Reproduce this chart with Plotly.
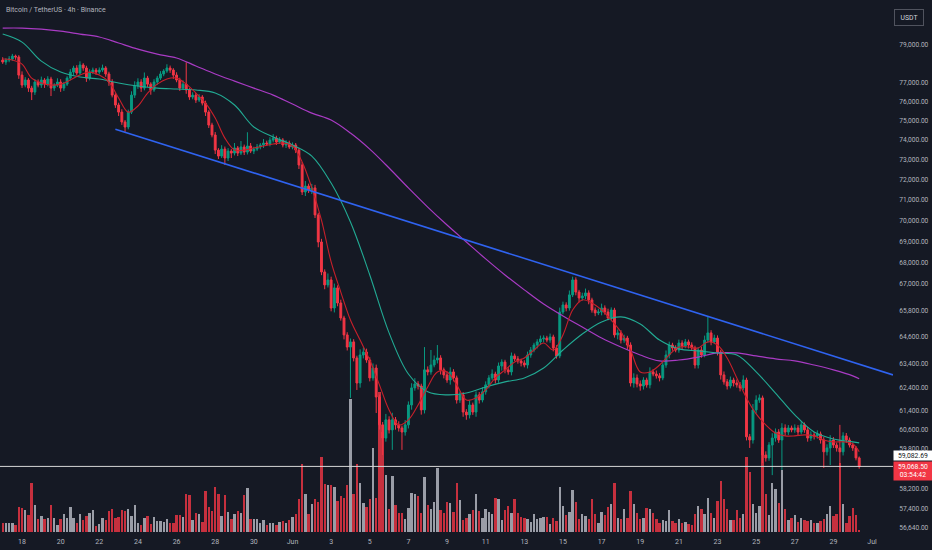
import math
import pandas as pd
import plotly.graph_objects as go

# BTC/USDT 4h candles, 2025-05-17 00:00 .. 2025-06-30 08:00
first_open = 78190
closes = [
    78080, 78190, 78240, 78400, 78350, 77380,
    76850, 77120, 76690, 76480, 77010, 76850,
    77120, 76900, 77170, 76690, 76850, 77010,
    76690, 76900, 77220, 77540, 77760, 77490,
    77920, 77760, 77220, 77540, 77650, 77540,
    77650, 77760, 77440, 77010, 76320, 75800,
    75430, 74920, 74660, 75430, 76320, 76800,
    77010, 76690, 77220, 76900, 76590, 77010,
    77220, 77440, 77600, 77760, 77650, 77380,
    77120, 76690, 76900, 76590, 76220, 76320,
    76060, 76220, 75900, 75430, 74760, 74250,
    73480, 73180, 73530, 73080, 73430, 73330,
    73590, 73330, 73640, 73380, 73690, 73430,
    73530, 73640, 73740, 73840, 73790, 73990,
    74090, 73890, 73990, 73740, 73840, 73640,
    73740, 73480, 72730, 71390, 71680, 71490,
    71590, 70270, 68970, 67560, 66960, 67190,
    65900, 66820, 66130, 65450, 64690, 64150,
    64380, 63670, 62580, 63800, 63930, 63580,
    62800, 63230, 61980, 60800, 60250, 61010,
    60590, 61010, 60800, 60670, 60500, 60800,
    61640, 62370, 62540, 62450, 61430, 63150,
    63060, 63360, 63580, 63670, 63150, 62930,
    62710, 63060, 62800, 61850, 62070, 61340,
    61220, 61640, 61340, 62070, 61850, 62200,
    62500, 62800, 62970, 62710, 63320, 63490,
    63150, 63060, 63760, 63630, 63540, 63450,
    63360, 63800, 64020, 64240, 64380, 64510,
    64550, 64460, 64600, 64110, 63760, 65720,
    66040, 65900, 66500, 67190, 66630, 66360,
    66450, 66590, 66270, 65810, 65680, 65720,
    65900, 65720, 65450, 65810, 64690, 64780,
    64460, 64550, 64240, 62580, 62800, 62540,
    62450, 62710, 62500, 63060, 62970, 62890,
    62800, 63360, 63800, 64240, 64110, 64020,
    64330, 64200, 64380, 64240, 64110, 63360,
    64020, 63800, 64460, 64780, 64380, 64550,
    63930, 62930, 62630, 62450, 62710, 62580,
    62500, 62370, 62710, 60300, 60170, 61430,
    61850, 61940, 59550, 59430, 59960, 60250,
    60500, 60170, 60670, 60500, 60670, 60590,
    60670, 60500, 60800, 60590, 60250, 60380,
    60340, 60420, 60170, 59680, 59840, 60170,
    59960, 59840, 59680, 60340, 60170, 59960,
    59840, 59430, 59068.5,
]
# wick length above / below the body, USDT
wick_up = [
    150, 100, 160, 120, 80, 100,
    200, 150, 100, 120, 160, 140,
    180, 100, 150, 120, 100, 200,
    150, 120, 100, 160, 120, 150,
    200, 100, 120, 150, 130, 110,
    140, 180, 100, 120, 150, 100,
    120, 150, 100, 130, 200, 250,
    200, 150, 300, 120, 100, 150,
    120, 150, 100, 200, 130, 100,
    150, 120, 200, 1170, 100, 150,
    120, 150, 100, 130, 100, 120,
    150, 100, 200, 130, 150, 100,
    250, 100, 300, 120, 700, 150,
    120, 150, 100, 200, 120, 150,
    200, 120, 150, 100, 150, 120,
    130, 100, 120, 150, 250, 120,
    200, 150, 100, 150, 120, 300,
    150, 200, 120, 150, 100, 120,
    150, 120, 100, 250, 200, 150,
    120, 200, 150, 100, 120, 250,
    150, 300, 120, 150, 100, 200,
    150, 200, 250, 120, 100, 1000,
    150, 660, 200, 570, 120, 100,
    150, 200, 120, 100, 150, 120,
    120, 200, 100, 150, 120, 200,
    150, 120, 200, 100, 150, 120,
    100, 120, 150, 100, 120, 100,
    120, 150, 130, 100, 120, 150,
    120, 100, 150, 100, 120, 200,
    150, 120, 200, 150, 120, 100,
    150, 200, 120, 100, 120, 150,
    200, 120, 150, 120, 100, 150,
    120, 150, 100, 120, 200, 150,
    150, 120, 100, 200, 120, 150,
    120, 150, 200, 150, 100, 120,
    150, 120, 130, 100, 120, 100,
    120, 150, 200, 720, 120, 150,
    120, 100, 150, 120, 150, 100,
    150, 120, 200, 100, 120, 250,
    200, 150, 100, 150, 120, 200,
    150, 120, 200, 150, 120, 100,
    150, 120, 160, 100, 120, 150,
    120, 150, 100, 120, 150, 200,
    120, 100, 960, 150, 120, 100,
    100, 80, 60,
]
wick_dn = [
    100, 150, 120, 100, 150, 200,
    150, 120, 200, 420, 150, 120,
    150, 200, 120, 420, 150, 100,
    200, 150, 100, 120, 150, 120,
    100, 150, 200, 120, 100, 150,
    120, 100, 150, 200, 120, 150,
    200, 150, 250, 120, 100, 150,
    150, 200, 120, 150, 250, 100,
    150, 100, 120, 100, 150, 200,
    120, 150, 100, 200, 150, 120,
    150, 100, 120, 200, 150, 120,
    200, 150, 100, 350, 150, 250,
    120, 150, 100, 150, 120, 100,
    150, 100, 120, 150, 100, 120,
    120, 150, 100, 120, 150, 100,
    120, 150, 200, 150, 200, 150,
    200, 150, 250, 150, 200, 120,
    150, 200, 150, 120, 200, 150,
    2210, 150, 300, 200, 150, 120,
    150, 120, 680, 200, 700, 150,
    150, 830, 200, 150, 740, 150,
    150, 200, 120, 150, 200, 150,
    150, 120, 100, 150, 200, 150,
    120, 200, 150, 150, 120, 200,
    205, 150, 120, 200, 150, 100,
    120, 150, 100, 150, 120, 200,
    150, 120, 150, 100, 120, 150,
    100, 150, 120, 100, 150, 120,
    150, 100, 120, 150, 120, 100,
    100, 150, 120, 100, 150, 200,
    120, 150, 200, 120, 150, 100,
    150, 120, 100, 150, 120, 200,
    150, 120, 200, 150, 200, 150,
    200, 150, 120, 150, 100, 120,
    150, 100, 120, 150, 120, 100,
    120, 150, 100, 150, 120, 150,
    150, 120, 100, 120, 150, 100,
    150, 200, 120, 150, 100, 150,
    120, 150, 100, 150, 330, 150,
    150, 120, 330, 150, 120, 1230,
    150, 120, 1230, 150, 120, 100,
    120, 150, 100, 120, 150, 120,
    150, 120, 150, 660, 150, 700,
    120, 150, 660, 150, 120, 100,
    120, 100, 80,
]
# volume, thousand BTC
volume = [
    1.86, 1.74, 1.86, 1.74, 1.40, 5.06,
    4.74, 4.34, 3.34, 9.86, 5.34, 2.54,
    3.20, 2.54, 2.86, 5.40, 2.74, 1.34,
    2.54, 3.54, 2.74, 4.94, 2.86, 1.86,
    3.66, 2.40, 3.20, 3.86, 4.34, 1.14,
    1.54, 2.86, 2.40, 4.20, 4.54, 2.86,
    3.06, 4.34, 4.20, 4.66, 3.20, 5.34,
    1.74, 1.34, 2.86, 3.20, 1.54, 3.06,
    2.20, 2.20, 2.00, 2.54, 1.86, 1.74,
    3.40, 3.34, 3.06, 7.60, 7.40, 2.40,
    3.86, 3.54, 2.00, 8.20, 5.06, 4.20,
    9.06, 7.66, 3.20, 7.34, 4.06, 2.54,
    3.54, 4.20, 3.74, 7.40, 8.86, 2.54,
    2.66, 2.54, 1.86, 2.40, 1.40, 1.86,
    1.86, 1.46, 2.06, 2.20, 1.74, 2.40,
    3.00, 3.66, 6.54, 13.54, 7.66, 3.54,
    5.66, 6.66, 6.00, 15.06, 9.54, 9.34,
    9.34, 9.00, 6.20, 7.20, 6.74, 9.34,
    26.60, 7.66, 13.54, 9.74, 5.86, 5.00,
    6.66, 16.86, 6.86, 28.00, 20.00, 11.40,
    4.66, 11.20, 5.46, 3.74, 3.86, 2.54,
    4.80, 7.74, 7.54, 7.20, 3.86, 11.06,
    5.34, 4.54, 6.00, 12.86, 4.34, 3.86,
    6.00, 5.86, 4.00, 9.74, 6.40, 2.40,
    2.86, 3.54, 4.40, 7.54, 4.20, 2.86,
    4.54, 4.00, 3.66, 6.86, 6.54, 2.40,
    4.34, 5.20, 3.74, 6.54, 3.74, 3.06,
    2.86, 2.54, 2.00, 3.54, 2.66, 2.86,
    3.00, 3.00, 1.54, 2.86, 2.20, 9.06,
    5.20, 3.34, 4.00, 8.40, 6.06, 2.66,
    3.54, 3.20, 2.66, 6.66, 3.54, 1.74,
    4.00, 3.34, 5.06, 5.54, 9.86, 2.86,
    2.54, 4.54, 2.86, 8.20, 5.66, 3.86,
    2.54, 2.86, 4.86, 4.54, 3.74, 2.54,
    1.74, 2.40, 2.20, 4.40, 2.20, 1.86,
    2.54, 1.86, 2.00, 1.54, 1.40, 3.54,
    5.20, 4.54, 3.66, 6.74, 3.86, 2.86,
    6.20, 10.20, 6.54, 4.54, 2.40, 2.40,
    4.40, 2.86, 3.66, 15.00, 12.00, 5.66,
    3.86, 5.20, 17.00, 7.54, 3.34, 9.86,
    8.66, 5.86, 12.34, 4.66, 2.40, 2.86,
    3.34, 2.00, 2.86, 2.40, 2.20, 2.40,
    1.86, 1.86, 2.20, 2.66, 3.66, 5.20,
    3.20, 3.54, 13.80, 5.54, 1.86, 3.20,
    4.86, 3.34, 0.40,
]

# moving averages
ma_fast = [  # every 12h
    78240, 78190, 77970, 77220, 76960, 76850, 76900, 77120, 77380, 77540,
    77380, 77010, 76170, 75430, 75750, 76430, 76900, 77170, 77220, 76900,
    76430, 75900, 75120, 74090, 73480, 73480, 73590, 73690, 73790, 73840,
    73690, 72880, 71590, 70020, 68030, 66630, 65360, 64460, 63580, 62500,
    61430, 60800, 61010, 61640, 62410, 63060, 63060, 62500, 61850, 61940,
    62280, 62800, 63150, 63490, 63670, 64020, 64330, 64020, 64690, 65810,
    66270, 66130, 65810, 65360, 64820, 64020, 63060, 63060, 63360, 63800,
    64150, 64150, 64110, 64380, 64240, 63670, 62800, 61940, 61260, 60800,
    60460, 60340, 60340, 60380, 60340, 60170, 60090, 60090, 60010, 59680,
]
ma_mid = [  # daily
    79600, 79160, 78130, 77540, 77280, 77170, 76960, 76800, 76690, 76640,
    76590, 76430, 75800, 74660, 74150, 73740, 73180, 71830, 69930, 67420,
    64780, 62970, 62200, 62070, 62150, 62410, 62630, 62800, 63230, 64020,
    64730, 65270, 65500, 65180, 64460, 64070, 63980, 63890, 63800, 63060,
    62150, 61220, 60500, 60210, 60090, 60050,
]
ma_slow = [  # daily
    79930, 79930, 79870, 79760, 79600, 79440, 79110, 78780, 78510, 78300,
    77870, 77440, 77060, 76690, 76320, 75850, 75380, 75020, 74350, 73530,
    72580, 71590, 70650, 69780, 68970, 68170, 67420, 66730, 66080, 65540,
    65040, 64550, 64150, 63800, 63540, 63580, 63710, 63890, 63890, 63760,
    63630, 63540, 63360, 63150, 62890, 62760,
]

trend_times = ["2025-05-22 20:00", "2025-07-02 02:00"]
trend_prices = [74550, 62930]

hline_price = 59082.69
last_price = 59068.50
countdown = "03:54:42"

price_ticks = [79000, 77000, 76000, 75000, 74000, 73000, 72000, 71000, 70000,
               69000, 68000, 67000, 65800, 64600, 63400, 62400, 61400, 60600,
               59800, 58200, 57400, 56640]
date_ticks = ["2025-05-18", "2025-05-20", "2025-05-22", "2025-05-24", "2025-05-26",
              "2025-05-28", "2025-05-30", "2025-06-01", "2025-06-03", "2025-06-05",
              "2025-06-07", "2025-06-09", "2025-06-11", "2025-06-13", "2025-06-15",
              "2025-06-17", "2025-06-19", "2025-06-21", "2025-06-23", "2025-06-25",
              "2025-06-27", "2025-06-29", "2025-07-01"]
date_labels = ["18", "20", "22", "24", "26", "28", "30", "Jun", "3", "5", "7", "9",
               "11", "13", "15", "17", "19", "21", "23", "25", "27", "29", "Jul"]

BG = "#151924"
TXT = "#b2b5be"
UP = "#089981"
DOWN = "#f23645"
FONT = "Roboto"

times = pd.date_range("2025-05-17 00:00", periods=len(closes), freq="4h")
opens = [first_open] + closes[:-1]
highs = [max(o, c) + w for o, c, w in zip(opens, closes, wick_up)]
lows = [min(o, c) - w for o, c, w in zip(opens, closes, wick_dn)]
vol_colors = ["rgba(178,181,190,0.85)" if c >= o else "rgba(242,54,69,0.8)"
              for o, c in zip(opens, closes)]

fast_t = list(pd.date_range("2025-05-17", periods=len(ma_fast) - 1, freq="12h")) + [times[-1]]
daily_t = list(pd.date_range("2025-05-17", periods=len(ma_mid) - 1, freq="D")) + [times[-1]]

fig = go.Figure()

fig.add_trace(go.Bar(x=times, y=volume, marker_color=vol_colors, marker_line_width=0,
                     width=4 * 3600 * 1000 * 0.74, yaxis="y", hoverinfo="skip"))

fig.add_trace(go.Candlestick(
    x=times, open=opens, high=highs, low=lows, close=closes, yaxis="y2",
    increasing=dict(line=dict(color=UP, width=1), fillcolor=UP),
    decreasing=dict(line=dict(color=DOWN, width=1), fillcolor=DOWN),
    whiskerwidth=0, hoverinfo="skip"))

fig.add_trace(go.Scatter(x=daily_t, y=ma_slow, mode="lines", yaxis="y2",
                         line=dict(color="#a93bc4", width=1.2, shape="spline"), hoverinfo="skip"))
fig.add_trace(go.Scatter(x=daily_t, y=ma_mid, mode="lines", yaxis="y2",
                         line=dict(color="#22ab94", width=1.1, shape="spline"), hoverinfo="skip"))
fig.add_trace(go.Scatter(x=fast_t, y=ma_fast, mode="lines", yaxis="y2",
                         line=dict(color="#c8202b", width=1.1, shape="spline"), hoverinfo="skip"))
fig.add_trace(go.Scatter(x=trend_times, y=trend_prices, mode="lines", yaxis="y2",
                         line=dict(color="#2f63f0", width=1.6), hoverinfo="skip"))

fig.add_shape(type="line", xref="paper", x0=0, x1=1, yref="y2", y0=hline_price, y1=hline_price,
              line=dict(color="#d6d6d6", width=1), layer="above")

fig.add_annotation(x=1, xref="paper", xanchor="left", y=math.log10(hline_price), yref="y2",
                   yanchor="middle", yshift=11, text=f"{hline_price:,.2f}", showarrow=False,
                   bgcolor="#ffffff", font=dict(family=FONT, size=6.8, color="#131722"),
                   width=38, height=9, borderpad=0, align="center")
fig.add_annotation(x=1, xref="paper", xanchor="left", y=math.log10(last_price), yref="y2",
                   yanchor="middle", yshift=-4, text=f"{last_price:,.2f}<br>{countdown}",
                   showarrow=False, bgcolor=DOWN, font=dict(family=FONT, size=6.8, color="#ffffff"),
                   width=38, height=18, borderpad=0, align="center")
fig.add_annotation(x=1.018, xref="paper", xanchor="center", y=0.967, yref="paper",
                   yanchor="middle", text="USDT", showarrow=False, bgcolor=BG,
                   bordercolor="#50535e", borderwidth=1, width=28, height=15, borderpad=0,
                   font=dict(family=FONT, size=6.8, color="#d1d4dc"))
fig.add_annotation(x=0.004, xref="paper", xanchor="left", y=0.981, yref="paper",
                   yanchor="middle", text="Bitcoin / TetherUS · 4h · Binance", showarrow=False,
                   font=dict(family=FONT, size=7, color=TXT))

fig.update_layout(
    width=932, height=550,
    margin=dict(l=0, r=39, t=0, b=18),
    paper_bgcolor=BG, plot_bgcolor=BG,
    showlegend=False, hovermode=False,
    bargap=0, boxgap=0.18,
    xaxis=dict(type="date", range=["2025-05-16 20:39", "2025-07-02 02:00"],
               rangeslider=dict(visible=False), showgrid=False, zeroline=False,
               showline=False, ticks="outside", ticklen=3, tickcolor=BG,
               tickvals=date_ticks, ticktext=date_labels,
               tickfont=dict(family=FONT, size=7, color=TXT)),
    yaxis=dict(range=[0, 106.4], visible=False, fixedrange=True),
    yaxis2=dict(type="log", overlaying="y", side="right",
                range=[math.log10(56471), math.log10(81492)],
                showgrid=False, zeroline=False, showline=False,
                tickvals=price_ticks, ticktext=[f"{v:,.2f}" for v in price_ticks],
                ticks="outside", ticklen=4, tickcolor=BG,
                tickfont=dict(family=FONT, size=6.6, color=TXT)),
)

# the page body has a default 8px margin; drop it so the chart fills the window
fig.write_html("out.html", config={"displayModeBar": False},
               post_script="document.body.style.margin='0';document.body.style.background='" + BG + "';")
